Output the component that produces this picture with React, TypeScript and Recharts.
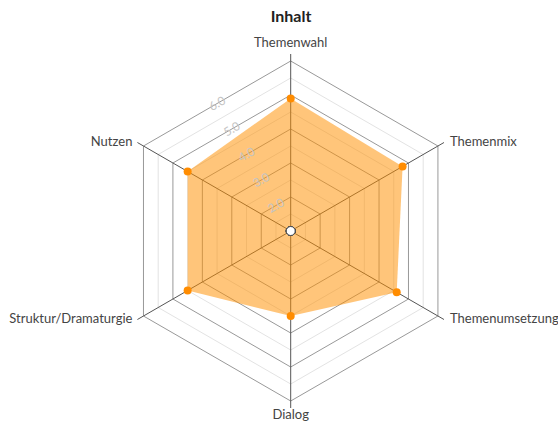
import React from 'react';
import { RadarChart, Radar, PolarGrid, PolarAngleAxis, PolarRadiusAxis } from 'recharts';

const categories = ['Themenwahl', 'Themenmix', 'Themenumsetzung', 'Dialog', 'Struktur/Dramaturgie', 'Nutzen'];
const scores = [4.9, 4.8, 4.6, 3.5, 4.5, 4.5];
const centerValues = [1, 1, 1, 1, 1, 1];
const majorTicks = [1, 2, 3, 4, 5, 6];
const minorTicks = [1.5, 2.5, 3.5, 4.5, 5.5];
const tickLabels = ['', '2.0', '3.0', '4.0', '5.0', '6.0'];
const title = 'Inhalt';
const domain: [number, number] = [1, 6];

const data = categories.map((c, i) => ({ category: c, score: scores[i], center: centerValues[i] }));

const CX = 290.7;
const CY = 231;
const R = 170;
const FONT = 'Lato, "Open Sans", sans-serif';

const minorRadii = minorTicks.map((v) => ((v - domain[0]) / (domain[1] - domain[0])) * R);

const RadiusTick = (props: any) => {
  const { x, y, payload } = props;
  const idx = majorTicks.indexOf(payload.value);
  const label = idx >= 0 ? tickLabels[idx] : '';
  if (!label) return null;
  const k = Math.cos(Math.PI / 6);
  const nx = CX + (x - CX) * k;
  const ny = CY + (y - CY) * k;
  return (
    <text x={nx} y={ny} dy="0.35em" textAnchor="middle" transform={`rotate(-30, ${nx}, ${ny})`}
      fill="#c4c4c4" fontSize={12} fontFamily={FONT}>{label}</text>
  );
};

const AngleTick = (props: any) => {
  const { x, y, payload } = props;
  let anchor: 'start' | 'middle' | 'end' = 'middle';
  let dx = 0;
  let dy = 3;
  if (x > CX + 5) { anchor = 'start'; dx = 6; }
  else if (x < CX - 5) { anchor = 'end'; dx = -5; }
  if (Math.abs(x - CX) <= 5) {
    dy = y < CY ? -7 : 11;
  }
  return (
    <text x={x + dx} y={y + dy} textAnchor={anchor} fill="#444" fontSize={13} fontFamily={FONT}>
      {payload.value}
    </text>
  );
};

export default function App() {
  return (
    <div style={{ position: 'absolute', left: 0, top: 0, width: 558, height: 424, background: '#fff' }}>
      <div style={{ position: 'absolute', left: 0, top: 6, width: 582, textAlign: 'center', fontFamily: FONT, fontWeight: 700, fontSize: 16, color: '#222' }}>
        {title}
      </div>
      <RadarChart width={558} height={424} data={data} cx={CX} cy={CY} outerRadius={R}
        style={{ position: 'absolute', left: 0, top: 0 }}>
        <PolarGrid gridType="polygon" polarRadius={minorRadii} stroke="#e3e3e3" radialLines={false} />
        <PolarGrid gridType="polygon" stroke="#999" radialLines={false} />
        <PolarGrid gridType="polygon" polarRadius={[]} stroke="#555" radialLines={true} />
        <PolarAngleAxis dataKey="category" axisLine={false} tickSize={7} tickLine={{ stroke: '#555' }} tick={<AngleTick />} />
        <PolarRadiusAxis type="number" domain={domain} ticks={majorTicks} tickCount={6} angle={120}
          axisLine={false} tickLine={false} tick={<RadiusTick />} />
        <Radar dataKey="score" fill="#ff8f00" fillOpacity={0.52} stroke="none"
          dot={{ r: 4, fill: '#ff8c00', fillOpacity: 1, stroke: 'none' }} isAnimationActive={false} />
        <Radar dataKey="center" fill="none" stroke="none"
          dot={{ r: 4.5, fill: '#ffffff', fillOpacity: 1, stroke: '#444', strokeWidth: 1 }} isAnimationActive={false} />
      </RadarChart>
    </div>
  );
}
